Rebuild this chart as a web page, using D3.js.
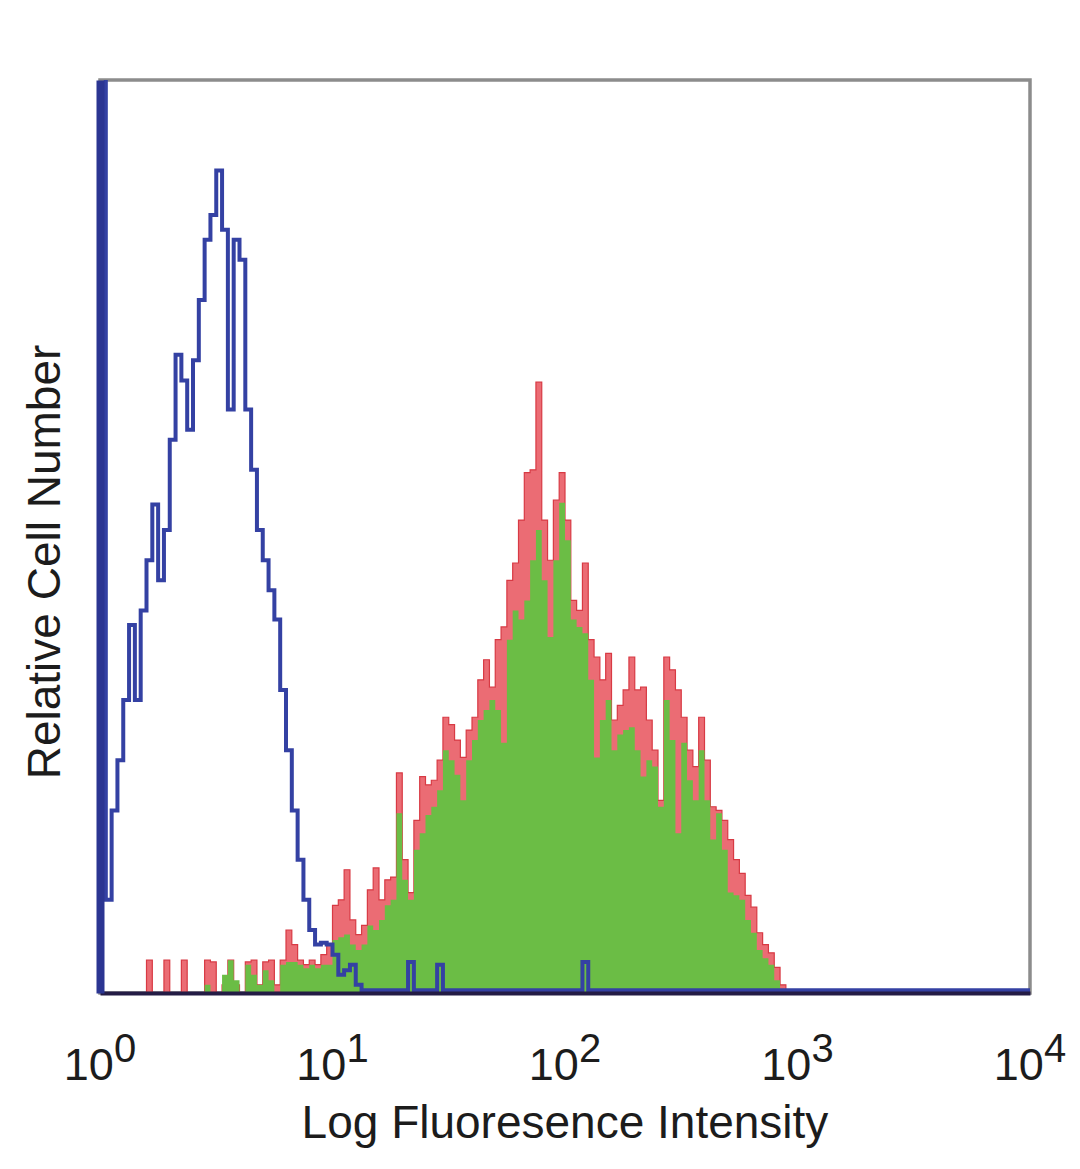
<!DOCTYPE html>
<html>
<head>
<meta charset="utf-8">
<script src="https://cdn.jsdelivr.net/npm/d3@7"></script>
<style>
  html, body { margin: 0; padding: 0; background: #ffffff; }
  svg { display: block; }
</style>
</head>
<body>
<script>
// ---- data ----
const binsPerDecade = 40;
const xTicks = [1, 10, 100, 1000, 10000];
const tickExponents = ["0", "1", "2", "3", "4"];
const xTitle = "Log Fluoresence Intensity";
const yTitle = "Relative Cell Number";

// isotype control (blue outline), starting at bin 0
const blueStart = 0;
const blueCounts = [120, 10.2, 20.0, 25.5, 32.1, 40.3, 32.1, 41.9, 47.4, 53.5, 45.2, 50.7, 60.6, 69.9, 67.1, 61.7, 69.3, 75.9, 82.5, 85.2,
  90.1, 83.6, 63.9, 82.5, 80.3, 63.9, 57.3, 50.7, 47.4, 44.1, 40.9, 33.2, 26.6, 20.0, 14.6, 10.2, 6.9, 5.3, 5.5, 5.3,
  4.2, 2.0, 2.5, 3.1, 0.9, 0.3, 0.3, 0.3, 0.3, 0.3, 0.3, 0.3, 0.3, 3.4, 0.3, 0.3, 0.3, 0.3, 3.1, 0.3,
  0.3, 0.3, 0.3, 0.3, 0.3, 0.3, 0.3, 0.3, 0.3, 0.3, 0.3, 0.3, 0.3, 0.3, 0.3, 0.3, 0.3, 0.3, 0.3, 0.3,
  0.3, 0.3, 0.3, 3.4, 0.3];

// stained sample (red outline), starting at bin 7
const redStart = 7;
const redCounts = [0, 3.6, 0, 0, 3.6, 0, 0, 3.6, 0, 0, 0,
  3.6, 3.4, 0, 0.9, 3.6, 0.9, 0, 3.4, 3.6, 0.9, 3.4, 3.6, 0.9, 3.6,
  6.9, 5.3, 3.6, 3.1, 3.6, 3.1, 4.2, 5.3,
  9.6, 10.2, 13.5, 8.0, 6.4, 7.4, 11.3, 13.7, 10.2, 12.4, 12.7,
  24.1, 14.6, 11.0, 18.9, 23.7, 22.8, 23.3, 25.5, 30.2, 29.4,
  27.7, 25.8, 28.8, 30.2, 34.3, 36.5, 33.5, 38.7, 40.1, 45.2,
  47.1, 51.8, 57.0, 57.3, 66.9, 51.8, 47.4, 54.0, 57.0, 51.8,
  43.0, 41.9, 47.1, 38.7, 36.8, 34.3, 37.2, 29.9, 31.5, 33.2,
  36.8, 33.2, 33.5, 29.9, 26.6, 21.1, 36.8, 35.4, 33.2, 30.2,
  26.6, 24.8, 30.2, 25.5, 20.4, 20.0, 18.9, 16.8, 14.6, 13.1,
  10.7, 9.4, 6.6, 5.3, 4.4, 2.8, 0.9, 0];

// stained sample (green filled), starting at bin 7
const greenStart = 7;
const greenCounts = [0, 0, 0, 0, 0, 0, 0, 0, 0, 0, 0,
  0.9, 0, 0, 2.0, 3.6, 1.4, 0, 3.1, 2.0, 0.9, 2.5, 1.4, 0, 3.1,
  3.4, 3.4, 3.1, 2.7, 3.1, 2.7, 3.1, 3.1,
  5.8, 6.1, 6.4, 5.3, 4.7, 5.3, 7.4, 6.9, 8.0, 9.6, 10.2,
  19.7, 12.4, 10.2, 15.7, 17.5, 19.5, 20.4, 22.2, 26.6, 25.5,
  23.9, 21.1, 25.5, 27.7, 29.9, 31.0, 32.1, 31.0, 27.4, 38.7,
  41.9, 40.9, 43.0, 47.4, 50.7, 45.2, 39.0, 47.4, 53.7, 49.6,
  40.9, 40.1, 39.4, 34.3, 25.8, 29.9, 32.1, 26.6, 28.3, 28.8,
  29.1, 26.6, 23.7, 25.5, 24.8, 20.4, 32.1, 27.7, 17.5, 27.4,
  23.3, 21.1, 26.6, 21.1, 16.8, 19.7, 15.7, 11.0, 10.7, 10.2,
  8.0, 6.6, 4.7, 3.8, 3.1, 1.4, 0.3, 0];

// ---- layout ----
const W = 1080, H = 1169;
const M = { left: 100, right: 50, top: 80, bottom: 176 };

const svg = d3.select("body").append("svg")
  .attr("width", W).attr("height", H)
  .attr("viewBox", `0 0 ${W} ${H}`);

const x = d3.scaleLog().domain([1, 10000]).range([M.left, W - M.right]);
const y = d3.scaleLinear().domain([0, 100]).range([H - M.bottom, M.top]);

function toPoints(start, counts, extendToEnd) {
  const pts = counts.map((v, i) => ({ x: Math.pow(10, (start + i) / binsPerDecade), v }));
  const last = counts[counts.length - 1];
  const endX = extendToEnd ? 10000 : Math.pow(10, (start + counts.length) / binsPerDecade);
  pts.push({ x: endX, v: last });
  return pts;
}

svg.append("defs").append("clipPath").attr("id", "plotClip")
  .append("rect")
  .attr("x", x(1)).attr("y", y(100))
  .attr("width", x(10000) - x(1)).attr("height", y(0) - y(100));

// frame
svg.append("rect")
  .attr("x", x(1)).attr("y", y(100))
  .attr("width", x(10000) - x(1)).attr("height", y(0) - y(100))
  .attr("fill", "none").attr("stroke", "#8c8c8c").attr("stroke-width", 3.5);

const plot = svg.append("g").attr("clip-path", "url(#plotClip)");

const area = d3.area()
  .x(d => x(d.x)).y0(y(0)).y1(d => y(d.v))
  .curve(d3.curveStepAfter);
const line = d3.line()
  .x(d => x(d.x)).y(d => y(d.v))
  .curve(d3.curveStepAfter);

const redPts = toPoints(redStart, redCounts, false);
const greenPts = toPoints(greenStart, greenCounts, false);
const bluePts = toPoints(blueStart, blueCounts, true);

plot.append("path").datum(redPts)
  .attr("d", area).attr("fill", "#e8525c").attr("fill-opacity", 0.85);
plot.append("path").datum(redPts)
  .attr("d", line).attr("fill", "none").attr("stroke", "#d83a44").attr("stroke-width", 1.2);
plot.append("path").datum(greenPts)
  .attr("d", area).attr("fill", "#6bbd45");
plot.append("path").datum(bluePts)
  .attr("d", line).attr("fill", "none").attr("stroke", "#3441a3")
  .attr("stroke-width", 4).attr("stroke-linejoin", "miter");

// axes
const xAxis = svg.append("g")
  .attr("transform", `translate(0,${y(0)})`)
  .call(d3.axisBottom(x).tickValues(xTicks).tickSize(0).tickFormat(""));
xAxis.select(".domain").attr("stroke", "#241c45").attr("stroke-width", 4);

const yAxis = svg.append("g")
  .attr("transform", `translate(${x(1)},0)`)
  .call(d3.axisLeft(y).tickValues([]).tickSize(0));
yAxis.select(".domain").attr("stroke", "#2b3592").attr("stroke-width", 8);

// tick labels (10 with superscript exponent)
const FONT = "'Liberation Sans', Arial, sans-serif";
const tl = svg.append("g").attr("font-family", FONT).attr("fill", "#1c1c1c");
xTicks.forEach((t, i) => {
  const txt = tl.append("text")
    .attr("x", x(t)).attr("y", 1080)
    .attr("text-anchor", "middle")
    .attr("font-size", 45);
  txt.append("tspan").text("10");
  txt.append("tspan").attr("dy", -18).attr("font-size", 40).text(tickExponents[i]);
});

svg.append("text")
  .attr("x", (x(1) + x(10000)) / 2).attr("y", 1138)
  .attr("text-anchor", "middle")
  .attr("font-family", FONT).attr("font-size", 46).attr("fill", "#1c1c1c")
  .text(xTitle);

svg.append("text")
  .attr("transform", `translate(60,562) rotate(-90)`)
  .attr("text-anchor", "middle")
  .attr("font-family", FONT).attr("font-size", 46).attr("fill", "#1c1c1c")
  .text(yTitle);
</script>
</body>
</html>
